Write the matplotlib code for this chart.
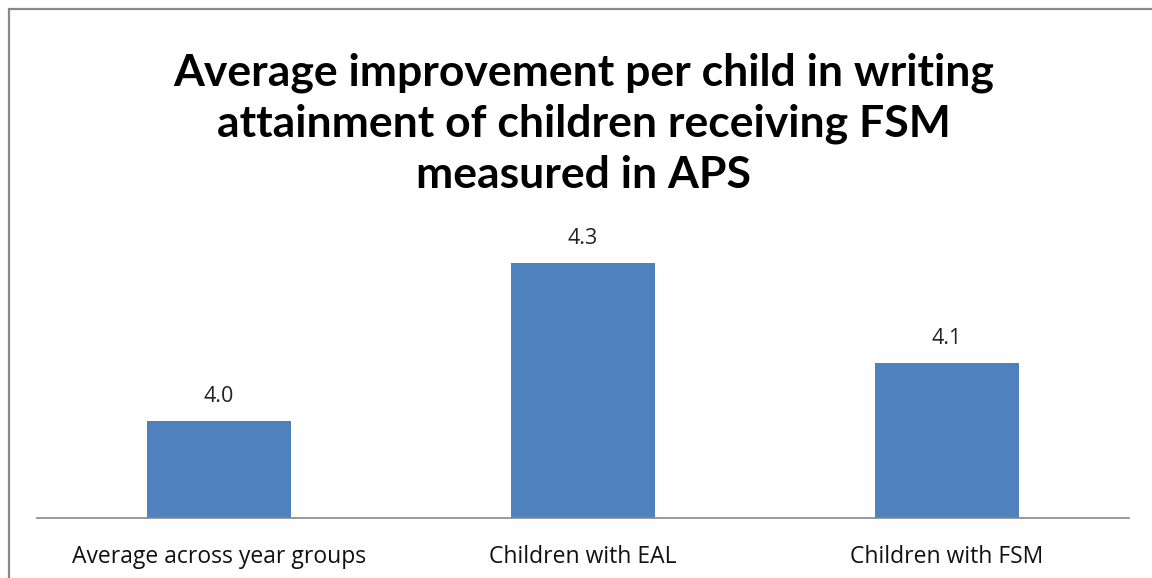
import matplotlib.pyplot as plt
from matplotlib.patches import Rectangle

# data
categories = ['Average across year groups', 'Children with EAL', 'Children with FSM']
values = [3.995, 4.31, 4.11]
labels = ['4.0', '4.3', '4.1']

plt.rcParams['font.family'] = ['Open Sans', 'DejaVu Sans']

W, H = 1152, 578
fig = plt.figure(figsize=(W / 100, H / 100), dpi=100)

# chart border (cut off on the right and bottom like the original)
fig.patches.append(Rectangle((9 / W, -0.1), 1.2, (H - 9) / H + 0.1,
                             transform=fig.transFigure, fill=False,
                             edgecolor='#888888', linewidth=1.6))

ax = fig.add_axes([37 / W, (H - 518) / H, (1129 - 37) / W, 300 / H])
x = range(len(categories))
bars = ax.bar(x, values, width=0.395, color='#4F81BD')
ax.set_ylim(3.8, 4.4)
ax.set_xlim(-0.5, 2.5)

for b, t in zip(bars, labels):
    ax.annotate(t, (b.get_x() + b.get_width() / 2, b.get_height()),
                xytext=(0, 17.5), textcoords='offset points',
                ha='center', va='center', fontsize=15.5, color='#222222')

ax.set_xticks(list(x))
ax.set_xticklabels(categories, fontsize=16.5, color='#111111')
ax.tick_params(axis='x', length=0, pad=19.5)
ax.set_yticks([])
for s in ['left', 'right', 'top']:
    ax.spines[s].set_visible(False)
ax.spines['bottom'].set_color('#888888')
ax.spines['bottom'].set_linewidth(1.2)

fig.text(584 / W, 1 - 124 / H,
         'Average improvement per child in writing\n'
         'attainment of children receiving FSM\n'
         'measured in APS',
         ha='center', va='center', fontsize=32, fontweight='bold',
         family=['Lato', 'DejaVu Sans'],
         linespacing=1.33, color='#000000')

fig.savefig('out.png', dpi=100)
